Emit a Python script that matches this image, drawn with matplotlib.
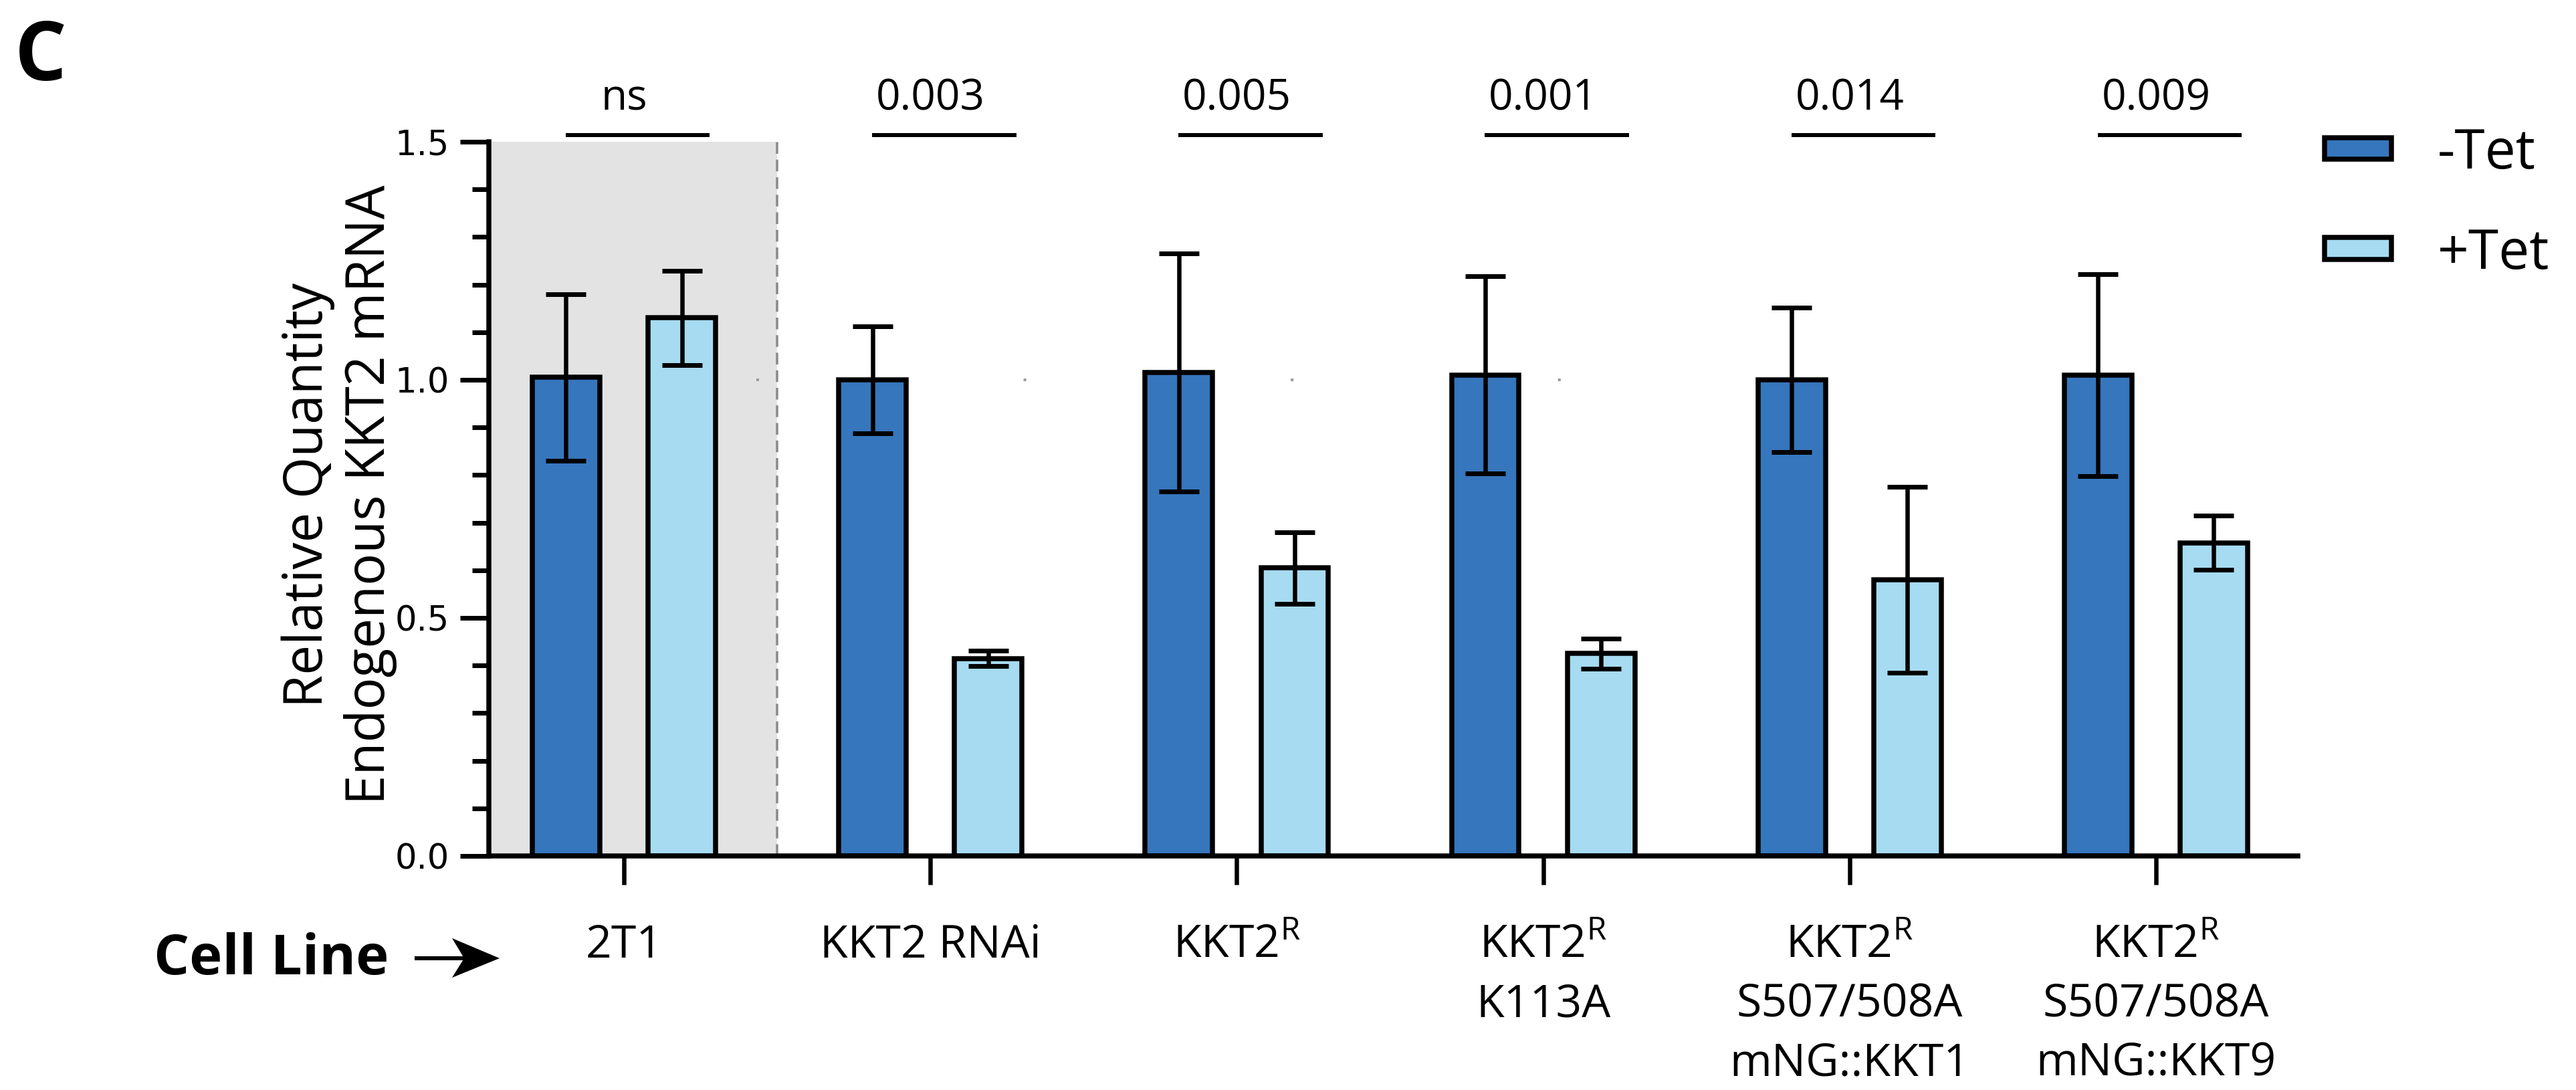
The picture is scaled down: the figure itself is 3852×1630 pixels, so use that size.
import matplotlib
matplotlib.use("Agg")
import matplotlib.pyplot as plt
import numpy as np
from matplotlib.patches import Rectangle, Polygon
from matplotlib.lines import Line2D
from matplotlib.ticker import FixedLocator, MultipleLocator

# ---------------- data ----------------
cell_lines = [
    "2T1",
    "KKT2 RNAi",
    "KKT2$^{\\mathregular{R}}$",
    "KKT2$^{\\mathregular{R}}$\nK113A",
    "KKT2$^{\\mathregular{R}}$\nS507/508A\nmNG::KKT1",
    "KKT2$^{\\mathregular{R}}$\nS507/508A\nmNG::KKT9",
]
minus_tet = [1.005, 1.00, 1.015, 1.01, 1.00, 1.01]
minus_tet_err = [0.175, 0.112, 0.25, 0.207, 0.152, 0.212]
plus_tet = [1.13, 0.415, 0.605, 0.425, 0.58, 0.658]
plus_tet_err = [0.099, 0.016, 0.075, 0.032, 0.195, 0.057]
p_values = ["ns", "0.003", "0.005", "0.001", "0.014", "0.009"]
series_names = ["-Tet", "+Tet"]
y_ticks = [0.0, 0.5, 1.0, 1.5]
y_tick_labels = ["0.0", "0.5", "1.0", "1.5"]

# ---------------- style ----------------
plt.rcParams["font.family"] = ["Open Sans", "DejaVu Sans"]
plt.rcParams["mathtext.fontset"] = "custom"
plt.rcParams["mathtext.rm"] = "Open Sans"

DARK = "#3676BC"
LIGHT = "#A6DBF2"
GREY_BOX = "#E3E3E3"

W, H, DPI = 3852, 1630, 200
PX = 72.0 / DPI  # points per pixel

fig = plt.figure(figsize=(W / DPI, H / DPI), dpi=DPI)
ax = fig.add_axes([731 / W, 1 - 1280 / H, (3436 - 731) / W, (1280 - 212) / H])

x = np.arange(len(cell_lines))
off = 0.189
bw = 0.22

ax.set_xlim(-0.441, 5.463)
ax.set_ylim(0, 1.5)

# shaded control region
x0 = ax.get_xlim()[0]
ax.add_patch(Rectangle((x0, 0), 0.5 - x0, 1.5, facecolor=GREY_BOX,
                       edgecolor="none", zorder=0))
ax.plot([0.5, 0.5], [0, 1.5], color="#8a8a8a", lw=3.5 * PX,
        ls=(0, (5, 2.5)), zorder=1)

# faint dotted reference at 1.0
ax.plot([0.432, 3.06], [1, 1], color="#9a9a9a", lw=4 * PX,
        ls=(0, (1.0, 98.9)), zorder=1)

ax.bar(x - off, minus_tet, bw, color=DARK, edgecolor="black",
       linewidth=7.5 * PX, zorder=3, label=series_names[0])
ax.bar(x + off, plus_tet, bw, color=LIGHT, edgecolor="black",
       linewidth=7.5 * PX, zorder=3, label=series_names[1])
for xs, ys, es in [(x - off, minus_tet, minus_tet_err), (x + off, plus_tet, plus_tet_err)]:
    ax.errorbar(xs, ys, yerr=es, fmt="none", ecolor="black",
                elinewidth=6.5 * PX, capsize=30 * PX, capthick=7 * PX, zorder=4)

# significance annotations
for i, p in enumerate(p_values):
    ax.plot([i - 0.19, i + 0.28], [1.514, 1.514], color="black", lw=6 * PX,
            clip_on=False, solid_capstyle="butt", zorder=5)
    ax.text(i, 1.567, p, ha="center", va="baseline", fontsize=23, clip_on=False)

# spines
for s in ["top", "right"]:
    ax.spines[s].set_visible(False)
for s in ["left", "bottom"]:
    ax.spines[s].set_linewidth(7.5 * PX)
    ax.spines[s].set_zorder(6)

# ticks
ax.yaxis.set_major_locator(FixedLocator(y_ticks))
ax.set_yticklabels(y_tick_labels)
ax.yaxis.set_minor_locator(MultipleLocator(0.1))
ax.tick_params(axis="y", which="major", length=43 * PX, width=7 * PX,
               pad=16 * PX, labelsize=18.4)
ax.tick_params(axis="y", which="minor", length=25 * PX, width=7 * PX)
for lab in ax.get_yticklabels():
    lab.set_fontfamily(["Liberation Sans Narrow", "DejaVu Sans"])

ax.set_xticks(x)
ax.set_xticklabels(cell_lines, fontsize=24.5, linespacing=1.4)
ax.tick_params(axis="x", which="major", length=43 * PX, width=6.5 * PX, pad=58 * PX)

# y label (two lines)
fig.text(482 / W, 1 - 740 / H, "Relative Quantity", rotation=90,
         rotation_mode="anchor", ha="center", va="baseline", fontsize=28.8)
fig.text(575 / W, 1 - 740 / H, "Endogenous KKT2 mRNA", rotation=90,
         rotation_mode="anchor", ha="center", va="baseline", fontsize=28.8)

# panel letter
fig.text(22 / W, 1 - 120 / H, "C", fontsize=44, fontweight="bold", va="baseline")

# "Cell Line ->"
fig.text(230 / W, 1 - 1457 / H, "Cell Line", fontsize=30, fontweight="bold",
         ha="left", va="baseline")
fig.add_artist(Line2D([623 / W, 700 / W], [1 - 1433 / H, 1 - 1433 / H],
                      transform=fig.transFigure, color="black", lw=6 * PX))
fig.add_artist(Polygon([[747 / W, 1 - 1433 / H], [676 / W, 1 - 1403 / H],
                        [694 / W, 1 - 1433 / H], [676 / W, 1 - 1462 / H]],
                       closed=True, transform=fig.transFigure,
                       facecolor="black", edgecolor="none"))

# legend (drawn manually)
for name, color, top, bottom, base in [(series_names[0], DARK, 206, 238, 252),
                                        (series_names[1], LIGHT, 355, 388, 402)]:
    fig.add_artist(Rectangle((3476 / W, 1 - bottom / H), 100 / W, (bottom - top) / H,
                             transform=fig.transFigure, facecolor=color,
                             edgecolor="black", lw=7.5 * PX))
    fig.text(3645 / W, 1 - base / H, name, fontsize=29.5, va="baseline")

fig.savefig("out.png", dpi=DPI)
